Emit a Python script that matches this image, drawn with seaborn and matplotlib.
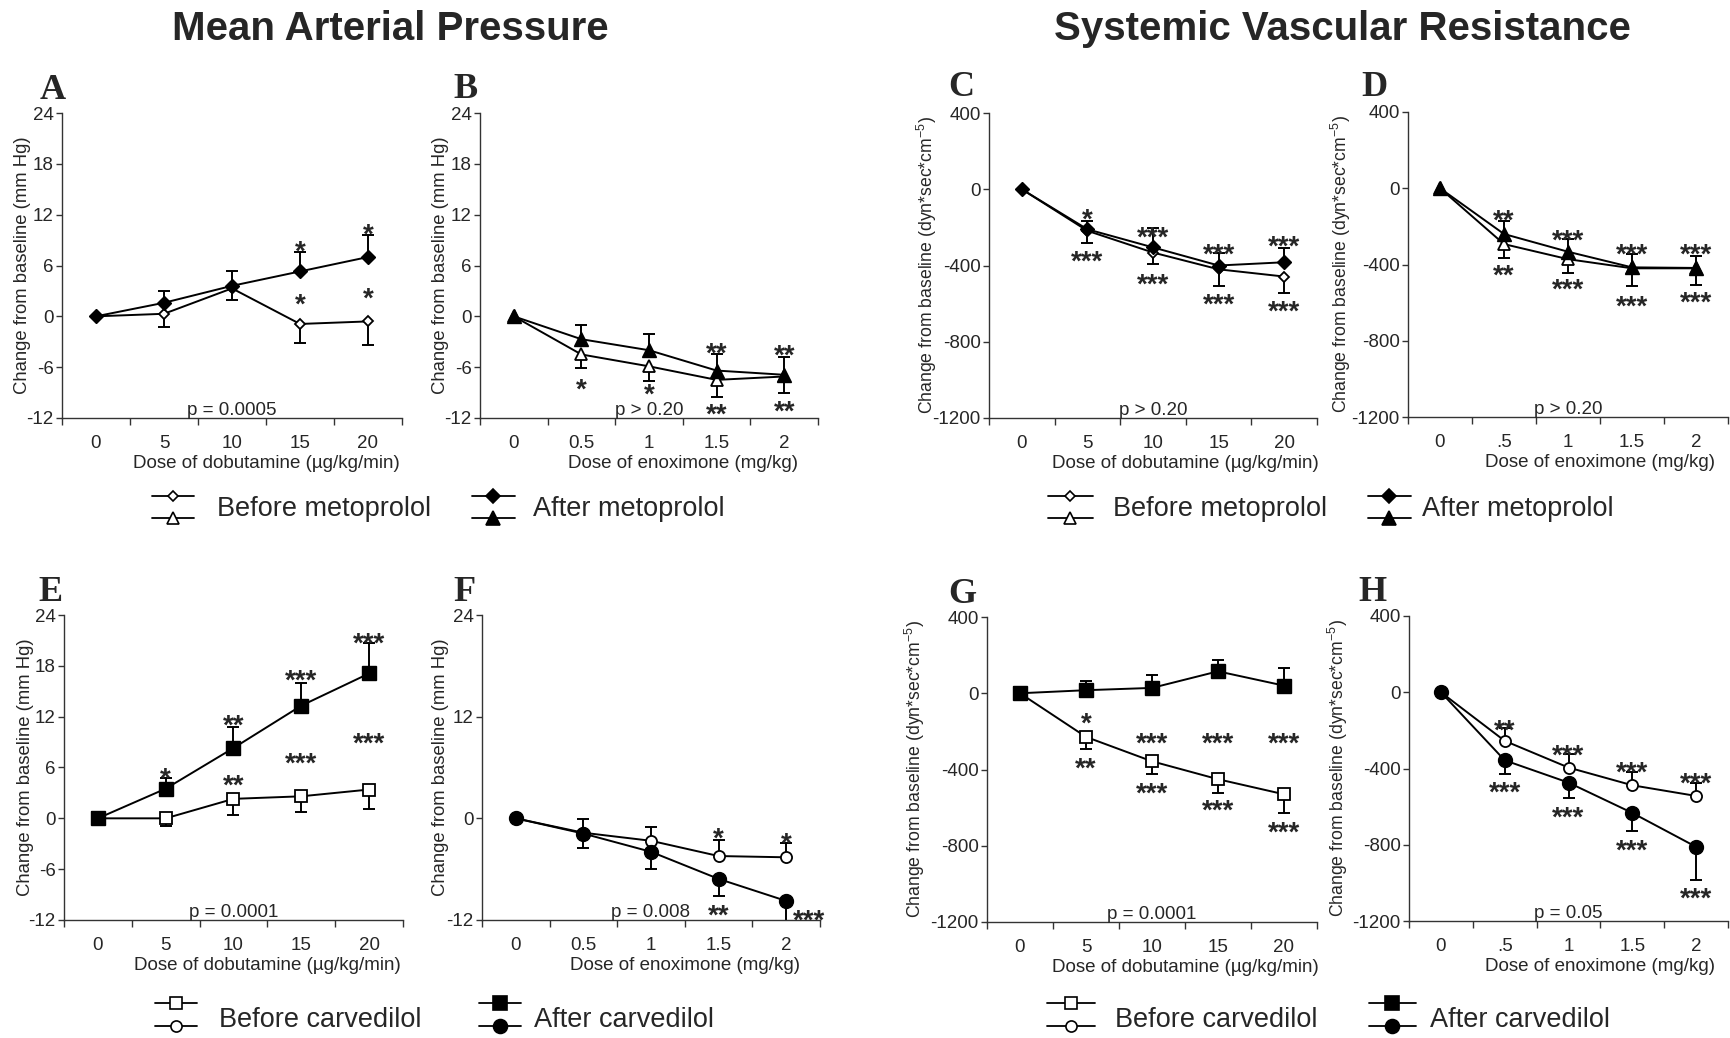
import numpy as np
import pandas as pd
import matplotlib
matplotlib.use("Agg")
import matplotlib.pyplot as plt
import seaborn as sns

W, H = 1731, 1038

# ---- doses (x categories) ----
dob_labels = ['0', '5', '10', '15', '20']
enox_labels = ['0', '0.5', '1', '1.5', '2']
enox_labels_short = ['0', '.5', '1', '1.5', '2']

# ---- A: MAP, dobutamine, metoprolol ----
a_before = [0, 0.3, 3.3, -0.9, -0.6]
a_before_err = [0, 1.5, 1.4, 2.25, 2.8]
a_after = [0, 1.6, 3.6, 5.3, 7.0]
a_after_err = [0, 1.35, 1.8, 2.25, 2.6]
a_stars = [(3, 8.7, '*'), (3, 2.4, '*'), (4, 10.7, '*'), (4, 3.1, '*')]

# ---- B: MAP, enoximone, metoprolol ----
b_before = [0, -4.5, -5.9, -7.5, -7.1]
b_before_err = [0, 1.55, 1.75, 2.0, 2.0]
b_after = [0, -2.7, -4.0, -6.4, -6.9]
b_after_err = [0, 1.7, 1.9, 1.9, 2.1]
b_stars = [(1, -7.6, '*'), (2, -8.2, '*'), (3, -3.4, '**'), (3, -10.6, '**'),
           (4, -3.6, '**'), (4, -10.2, '**')]

# ---- C: SVR, dobutamine, metoprolol ----
c_before = [0, -218, -332, -420, -458]
c_before_err = [0, 62, 61, 87, 84]
c_after = [0, -210, -305, -400, -383]
c_after_err = [0, 44, 104, 63, 77]
c_stars = [(1, -114, '*'), (1, -334, '***'), (2, -210, '***'), (2, -456, '***'),
           (3, -297, '***'), (3, -561, '***'), (4, -253, '***'), (4, -595, '***')]

# ---- D: SVR, enoximone, metoprolol ----
d_before = [0, -293, -372, -420, -420]
d_before_err = [0, 73, 70, 92, 85]
d_after = [0, -240, -333, -415, -418]
d_after_err = [0, 70, 67, 70, 61]
d_stars = [(1, -126, '**'), (1, -415, '**'), (2, -231, '***'), (2, -485, '***'),
           (3, -301, '***'), (3, -573, '***'), (4, -301, '***'), (4, -556, '***')]

# ---- E: MAP, dobutamine, carvedilol ----
e_before = [0, 0, 2.3, 2.6, 3.4]
e_before_err = [0, 0.9, 1.9, 1.9, 2.3]
e_after = [0, 3.5, 8.3, 13.3, 17.1]
e_after_err = [0, 1.3, 2.5, 2.7, 3.6]
e_stars = [(1, 5.7, '*'), (2, 12.0, '**'), (2, 4.9, '**'), (3, 17.3, '***'),
           (3, 7.5, '***'), (4, 21.6, '***'), (4, 9.8, '***')]

# ---- F: MAP, enoximone, carvedilol ----
f_before = [0, -1.7, -2.65, -4.45, -4.6]
f_before_err = [0, 1.6, 1.6, 1.9, 1.65]
f_after = [0, -1.8, -3.95, -7.15, -9.75]
f_after_err = [0, 1.7, 2.05, 2.05, 2.35]
f_stars = [(3, -1.4, '*'), (3, -10.5, '**'), (4, -2.0, '*'), (4.34, -11.0, '***')]

# ---- G: SVR, dobutamine, carvedilol ----
g_before = [0, -229, -357, -451, -530]
g_before_err = [0, 61, 68, 70, 96]
g_after = [0, 16, 28, 115, 40]
g_after_err = [0, 49, 66, 58, 93]
g_stars = [(1, -115, '*'), (1, -348, '**'), (2, -220, '***'), (2, -483, '***'),
           (3, -220, '***'), (3, -570, '***'), (4, -220, '***'), (4, -684, '***')]

# ---- H: SVR, enoximone, carvedilol ----
h_before = [0, -255, -395, -488, -544]
h_before_err = [0, 65, 70, 70, 68]
h_after = [0, -357, -474, -633, -811]
h_after_err = [0, 70, 80, 94, 175]
h_stars = [(1, -156, '**'), (1, -479, '***'), (2, -287, '***'), (2, -610, '***'),
           (3, -374, '***'), (3, -785, '***'), (4, -435, '***'), (4, -1038, '***')]

p_texts = ['p = 0.0005', 'p > 0.20', 'p > 0.20', 'p > 0.20',
           'p = 0.0001', 'p = 0.008', 'p = 0.0001', 'p = 0.05']

map_label = 'Change from baseline (mm Hg)'
svr_label = r'Change from baseline (dyn*sec*cm$^{-5}$)'
dob_xlabel = 'Dose of dobutamine (\u00b5g/kg/min)'
enox_xlabel = 'Dose of enoximone (mg/kg)'

sns.set_style('ticks')
plt.rcParams['font.family'] = ['Liberation Sans', 'DejaVu Sans']
plt.rcParams['axes.unicode_minus'] = False
plt.rcParams['mathtext.default'] = 'regular'

fig = plt.figure(figsize=(W / 100, H / 100), dpi=100)

STAR_FS = 20


def px_axes(l, t, r, b):
    return fig.add_axes([l / W, 1 - b / H, (r - l) / W, (b - t) / H])


def one_sided(ax, x, y, err, up, zorder):
    x = np.asarray(x, float)
    y = np.asarray(y, float)
    err = np.asarray(err, float)
    keep = err > 0
    end = y + err if up else y - err
    ax.vlines(x[keep], y[keep], end[keep], color='black', lw=1.4, zorder=zorder)
    ax.plot(x[keep], end[keep], ls='none', marker='_', ms=9, mew=1.4,
            color='black', zorder=zorder)


def draw_panel(ax, labels, before, before_err, after, after_err, before_up,
               mk, ms_b, ms_a, ylim, yticks, stars, ptext, ylabel, xlabel,
               ylab_x, ylab_fs):
    x = np.arange(len(labels))
    df = pd.DataFrame({'dose': x, 'before': before, 'after': after})
    one_sided(ax, x, before, before_err, before_up, 2)
    one_sided(ax, x, after, after_err, not before_up, 2)
    sns.lineplot(data=df, x='dose', y='before', ax=ax, color='black', lw=1.4,
                 marker=mk, markersize=ms_b, markerfacecolor='white',
                 markeredgecolor='black', markeredgewidth=1.3, zorder=3)
    sns.lineplot(data=df, x='dose', y='after', ax=ax, color='black', lw=1.4,
                 marker=mk, markersize=ms_a, markerfacecolor='black',
                 markeredgecolor='black', markeredgewidth=1.0, zorder=4)
    for sx, sy, s in stars:
        ax.annotate(s, (sx, sy), xytext=(0, -0.6 * STAR_FS), textcoords='offset points',
                    ha='center', va='baseline', fontsize=STAR_FS,
                    fontweight='bold', zorder=5, annotation_clip=False)
    ax.annotate(ptext, (0.5, 0), xycoords='axes fraction', xytext=(0, 2),
                textcoords='offset points', ha='center', va='baseline',
                fontsize=13.5)
    ax.set_xlim(-0.5, 4.5)
    ax.set_ylim(*ylim)
    ax.set_yticks(yticks)
    ax.set_xticks(x)
    ax.set_xticklabels(labels)
    ax.set_xticks(np.arange(-0.5, 5, 1), minor=True)
    ax.tick_params(axis='x', which='major', length=0, pad=12, labelsize=13.5)
    ax.tick_params(axis='x', which='minor', length=5, width=1, color='#333333')
    ax.tick_params(axis='y', length=4, width=1, pad=2, labelsize=13.5,
                   color='#333333')
    sns.despine(ax=ax)
    for sp in ('left', 'bottom'):
        ax.spines[sp].set_color('#333333')
        ax.spines[sp].set_linewidth(1)
    ax.set_ylabel(ylabel, fontsize=ylab_fs)
    ax.set_xlabel(xlabel, fontsize=13.5)
    ax.yaxis.label.set_va('center')
    ax.yaxis.set_label_coords(ylab_x, 0.5)
    ax.xaxis.set_label_coords(0.6, -0.12)
    ax.xaxis.label.set_va('top')


map_ylim, map_ticks = (-12, 24), [-12, -6, 0, 6, 12, 18, 24]
svr_ylim, svr_ticks = (-1200, 400), [-1200, -800, -400, 0, 400]

# layout: pixel boxes (left, top, right, bottom), y-label x offset, letter spot
panels = [
    ('A', (62, 113, 402, 418), dob_labels, a_before, a_before_err, a_after, a_after_err, False, 'D', 5.5, 7.5, map_ylim, map_ticks, a_stars, map_label, dob_xlabel, -0.115, (40, 99)),
    ('B', (480, 113, 818, 418), enox_labels, b_before, b_before_err, b_after, b_after_err, False, '^', 8, 10, map_ylim, map_ticks, b_stars, map_label, enox_xlabel, -0.118, (453, 98)),
    ('C', (989, 113, 1317, 418), dob_labels, c_before, c_before_err, c_after, c_after_err, False, 'D', 5.5, 7.5, svr_ylim, svr_ticks, c_stars, svr_label, dob_xlabel, -0.19, (948, 96)),
    ('D', (1408, 112, 1728, 417), enox_labels_short, d_before, d_before_err, d_after, d_after_err, False, '^', 8, 10, svr_ylim, svr_ticks, d_stars, svr_label, enox_xlabel, -0.21, (1361, 96)),
    ('E', (64, 615, 403, 920), dob_labels, e_before, e_before_err, e_after, e_after_err, False, 's', 8, 10, map_ylim, map_ticks, e_stars, map_label, dob_xlabel, -0.115, (38, 601)),
    ('F', (482, 615, 820, 920), enox_labels, f_before, f_before_err, f_after, f_after_err, True, 'o', 8, 10, map_ylim, [-12, 0, 12, 24], f_stars, map_label, enox_xlabel, -0.124, (453, 601)),
    ('G', (987, 617, 1317, 922), dob_labels, g_before, g_before_err, g_after, g_after_err, False, 's', 8, 10, svr_ylim, svr_ticks, g_stars, svr_label, dob_xlabel, -0.218, (948, 603)),
    ('H', (1409, 616, 1728, 921), enox_labels_short, h_before, h_before_err, h_after, h_after_err, True, 'o', 8, 10, svr_ylim, svr_ticks, h_stars, svr_label, enox_xlabel, -0.222, (1358, 601)),
]

for i, p in enumerate(panels):
    (letter, box, labels, bef, bef_e, aft, aft_e, bup, mk, msb, msa,
     ylim, yt, stars, ylab, xlab, ylx, lpos) = p
    ax = px_axes(*box)
    ylab_fs = 13.3 if ylab == map_label else 12.7
    draw_panel(ax, labels, bef, bef_e, aft, aft_e, bup, mk, msb, msa, ylim, yt,
               stars, p_texts[i], ylab, xlab, ylx, ylab_fs)
    fig.text(lpos[0] / W, 1 - lpos[1] / H, letter, fontfamily='Liberation Serif',
             fontweight='bold', fontsize=26, ha='left', va='baseline')

fig.text(390 / W, 1 - 29 / H, 'Mean Arterial Pressure', ha='center', va='center',
         fontsize=29, fontweight='bold')
fig.text(1342 / W, 1 - 29 / H, 'Systemic Vascular Resistance', ha='center',
         va='center', fontsize=29, fontweight='bold')

# legends drawn on an overlay in pixel space
ov = fig.add_axes([0, 0, 1, 1], zorder=10)
ov.set_xlim(0, W)
ov.set_ylim(H, 0)
ov.axis('off')
ov.patch.set_alpha(0)

legend_groups = [
    # x0, x1, y_top, y_bot, top marker, bottom marker, filled, text x, text y, text
    (152, 194, 496, 518, ('D', 5.5), ('^', 8), False, 217, 509, 'Before metoprolol'),
    (472, 515, 496, 518, ('D', 7.5), ('^', 10), True, 533, 509, 'After metoprolol'),
    (1048, 1093, 496, 518, ('D', 5.5), ('^', 8), False, 1113, 509, 'Before metoprolol'),
    (1368, 1411, 496, 518, ('D', 7.5), ('^', 10), True, 1422, 509, 'After metoprolol'),
    (155, 197, 1003, 1026, ('s', 8), ('o', 8), False, 219, 1020, 'Before carvedilol'),
    (479, 521, 1003, 1026, ('s', 10), ('o', 10), True, 534, 1020, 'After carvedilol'),
    (1047, 1095, 1003, 1026, ('s', 8), ('o', 8), False, 1115, 1020, 'Before carvedilol'),
    (1369, 1416, 1003, 1026, ('s', 10), ('o', 10), True, 1430, 1020, 'After carvedilol'),
]
for x0, x1, yt, yb, mt, mb, filled, tx, ty, txt in legend_groups:
    fc = 'black' if filled else 'white'
    for yy, (m, ms) in ((yt, mt), (yb, mb)):
        ov.plot([x0, x1], [yy, yy], color='black', lw=1.3)
        ov.plot([(x0 + x1) / 2], [yy], marker=m, ms=ms, mfc=fc, mec='black',
                mew=1.2, ls='none')
    ov.text(tx, ty, txt, fontsize=19.5, va='center', ha='left')

fig.savefig('out.png', dpi=100)
